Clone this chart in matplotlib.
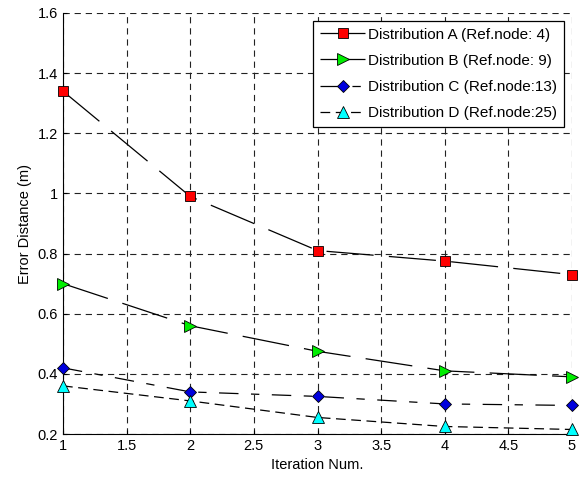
import numpy as np
import matplotlib.pyplot as plt

plt.rcParams['font.family'] = ['Liberation Sans', 'DejaVu Sans']
plt.rcParams['lines.scale_dashes'] = False

iters = [1, 2, 3, 4, 5]
dist_a = [1.34, 0.99, 0.81, 0.775, 0.73]
dist_b = [0.70, 0.56, 0.475, 0.41, 0.39]
dist_c = [0.42, 0.34, 0.325, 0.30, 0.295]
dist_d = [0.36, 0.31, 0.255, 0.225, 0.215]
labels = ['Distribution A (Ref.node: 4)', 'Distribution B (Ref.node: 9)',
          'Distribution C (Ref.node:13)', 'Distribution D (Ref.node:25)']

fig = plt.figure(figsize=(5.81, 4.78), dpi=100)
ax = fig.add_axes([63/581, 1 - 434/478, (572-63)/581, (434-13)/478])

ax.plot(iters, dist_a, color='k', lw=0.9, dashes=(34, 11), marker='s', ms=7.5,
        mfc='red', mec='k', mew=0.6, label=labels[0], clip_on=False, zorder=5)
ax.plot(iters, dist_b, color='k', lw=0.9, dashes=(34, 11), marker='>', ms=8,
        mfc='#00ee00', mec='k', mew=0.6, label=labels[1], clip_on=False, zorder=5)
ax.plot(iters, dist_c, color='k', lw=0.9, dashes=(14, 9, 6, 9), marker='D', ms=6.5,
        mfc='#0000dd', mec='k', mew=0.6, label=labels[2], clip_on=False, zorder=5)
ax.plot(iters, dist_d, color='k', lw=0.9, dashes=(7, 4), marker='^', ms=8.5,
        mfc='cyan', mec='k', mew=0.6, label=labels[3], clip_on=False, zorder=5)

ax.set_xlim(1, 5)
ax.set_ylim(0.2, 1.6)
ax.set_xticks(np.arange(1, 5.01, 0.5))
ax.set_xticklabels(['1', '1.5', '2', '2.5', '3', '3.5', '4', '4.5', '5'])
ax.set_yticks(np.arange(0.2, 1.61, 0.2))
ax.set_yticklabels(['0.2', '0.4', '0.6', '0.8', '1', '1.2', '1.4', '1.6'])
ax.grid(True, color='#222222', ls=(0, (4.5, 3.5)), lw=0.8)
ax.tick_params(direction='in', labelsize=10.5, length=3)
for s in ['top', 'right']:
    ax.spines[s].set_visible(False)
ax.set_xlabel('Iteration Num.', fontsize=10.5)
ax.set_ylabel('Error Distance (m)', fontsize=10.5)

leg = ax.legend(loc='upper right', fontsize=11, fancybox=False, framealpha=1,
                edgecolor='k', handlelength=3.0, borderaxespad=0.5,
                labelspacing=0.8, handletextpad=0.2, borderpad=0.45)
leg.get_frame().set_linewidth(0.9)
leg.set_zorder(10)

fig.savefig('out.png', dpi=100)
